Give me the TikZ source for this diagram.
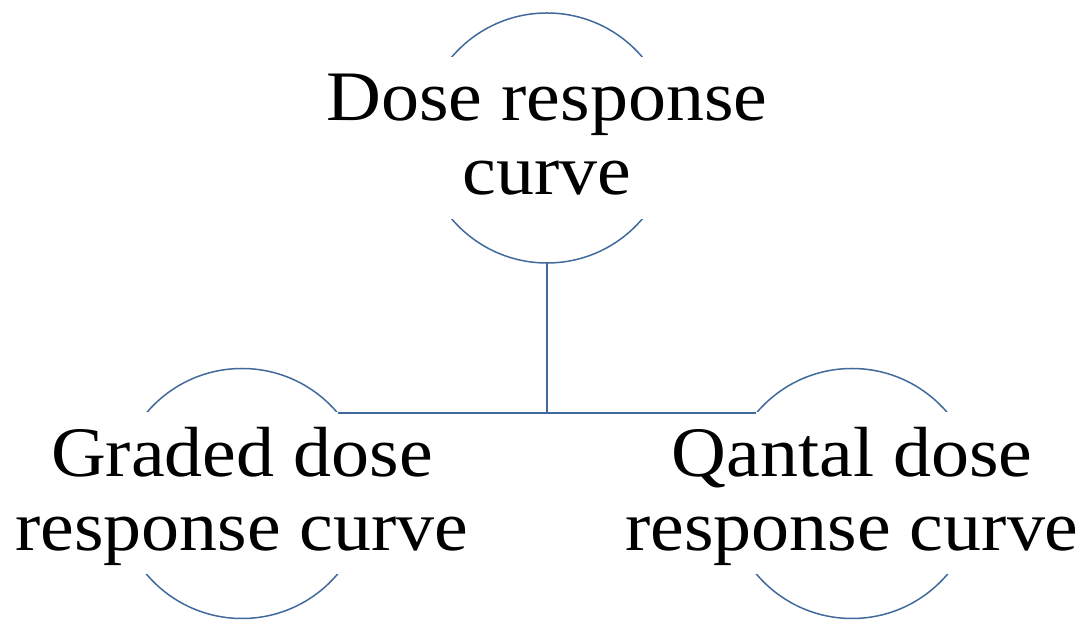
\documentclass[tikz,border=0pt]{standalone}
\usepackage{fontspec}
\setmainfont{Liberation Serif}[FakeStretch=1.07]
\definecolor{ringblue}{RGB}{64,106,156}
\tikzset{
  ring/.style={circle, draw=ringblue, line width=1.5pt, minimum size=250pt, inner sep=0pt, outer sep=0pt},
  ringtxt/.style={fill=white, align=center, text height=114pt, text depth=0pt, inner xsep=6pt, inner ysep=24pt, font=\fontsize{71}{74}\selectfont},
  link/.style={draw=ringblue, line width=1.5pt}
}
\begin{document}
\begin{tikzpicture}[x=1pt,y=1pt]
\useasboundingbox (0,0) rectangle (1091,620);

\node[ring] (dose) at (547,482) {};
\node[ring] (graded) at (242,126.5) {};
\node[ring] (qantal) at (852,126.5) {};

\node[ringtxt] (dosetxt) at (dose) {Dose response\\curve};
\node[ringtxt] (gradedtxt) at (graded) {Graded dose\\response curve};
\node[ringtxt] (qantaltxt) at (qantal) {Qantal dose\\response curve};

\draw[link] (dose.south) -- (dose.south |- graded.40);
\draw[link] (graded.40) -- (qantal.140);
\end{tikzpicture}
\end{document}
